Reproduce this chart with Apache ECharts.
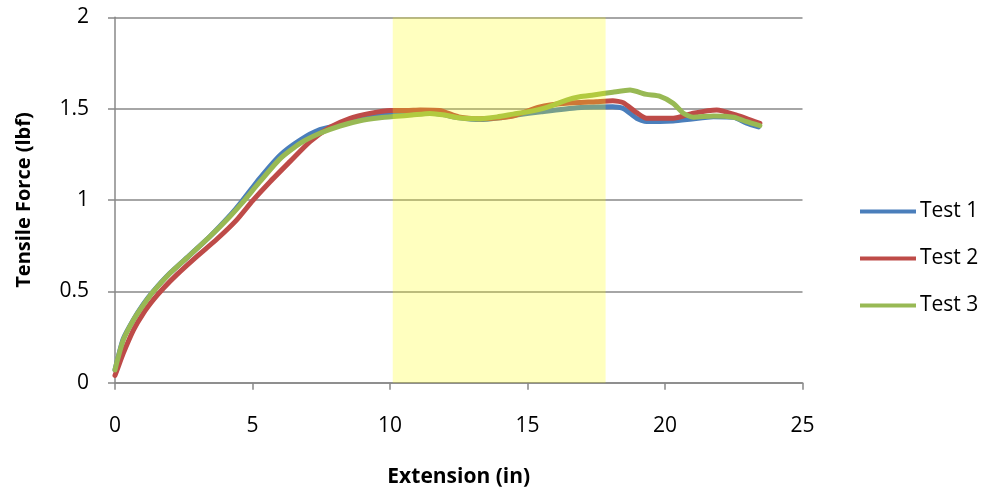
<!DOCTYPE html>
<html>
<head>
<meta charset="utf-8">
<script src="https://cdn.jsdelivr.net/npm/echarts@6/dist/echarts.min.js"></script>
<style>
html,body{margin:0;padding:0;background:#fff;}
#chart{width:985px;height:497px;}
</style>
</head>
<body>
<div id="chart"></div>
<script>
// ---- data ----
var seriesNames = ['Test 1', 'Test 2', 'Test 3'];
var xTicks = [0, 5, 10, 15, 20, 25];
var yTicks = [0, 0.5, 1, 1.5, 2];
var bandX = [10.1, 17.84];

var test1X = [0, 0.3, 0.67, 1.03, 1.39, 2.0, 2.73, 3.45, 4.18, 4.6, 5.27, 6.0, 6.73, 7.45, 8.18, 8.91, 9.64, 10.3, 11.0, 11.8, 12.5, 13.27, 14.0, 14.6, 15.5, 16.8, 18.1, 18.5, 18.97, 19.33, 20.3, 20.9, 21.76, 22.5, 22.97, 23.4];
var test1Y = [0.07, 0.24, 0.345, 0.43, 0.50, 0.60, 0.70, 0.80, 0.915, 0.99, 1.12, 1.245, 1.328, 1.385, 1.41, 1.44, 1.465, 1.474, 1.48, 1.47, 1.45, 1.44, 1.45, 1.465, 1.483, 1.505, 1.511, 1.50, 1.447, 1.429, 1.433, 1.442, 1.456, 1.453, 1.42, 1.40];

var test2X = [0, 0.1, 0.3, 0.67, 1.03, 1.39, 1.76, 2.24, 2.97, 3.7, 4.42, 5.0, 5.64, 6.36, 7.09, 7.82, 8.55, 9.27, 10.0, 10.6, 11.1, 11.8, 12.5, 13.27, 14.0, 14.5, 15.45, 16.4, 17.5, 18.1, 18.48, 18.97, 19.33, 20.3, 21.03, 21.88, 22.6, 23.45];
var test2Y = [0.04, 0.08, 0.161, 0.288, 0.38, 0.453, 0.517, 0.59, 0.69, 0.785, 0.89, 0.995, 1.10, 1.21, 1.32, 1.398, 1.447, 1.474, 1.49, 1.49, 1.493, 1.49, 1.455, 1.445, 1.45, 1.46, 1.51, 1.529, 1.538, 1.543, 1.533, 1.478, 1.447, 1.447, 1.475, 1.493, 1.465, 1.42];

var test3X = [0, 0.1, 0.3, 0.67, 1.03, 1.39, 2.0, 2.73, 3.45, 4.18, 4.6, 5.27, 6.0, 6.73, 7.45, 8.18, 8.91, 9.64, 10.24, 10.8, 11.45, 12.0, 12.5, 13.27, 13.9, 14.48, 15.1, 15.7, 16.42, 16.9, 17.4, 18.1, 18.73, 19.33, 19.8, 20.3, 20.67, 21.03, 21.76, 22.5, 22.97, 23.45];
var test3Y = [0.07, 0.13, 0.234, 0.343, 0.425, 0.498, 0.599, 0.699, 0.80, 0.91, 0.98, 1.10, 1.225, 1.31, 1.365, 1.405, 1.434, 1.45, 1.458, 1.465, 1.474, 1.465, 1.45, 1.445, 1.455, 1.47, 1.485, 1.507, 1.547, 1.565, 1.575, 1.59, 1.602, 1.578, 1.568, 1.529, 1.475, 1.453, 1.46, 1.453, 1.429, 1.407];

var colors = ['#4A7EBB', '#BE4B48', '#98B954'];

function pairs(xs, ys) {
  var out = [];
  for (var i = 0; i < xs.length; i++) out.push([xs[i], ys[i]]);
  return out;
}
var allData = [pairs(test1X, test1Y), pairs(test2X, test2Y), pairs(test3X, test3Y)];

var FONT = 'Open Sans';
var chart = echarts.init(document.getElementById('chart'), null, {renderer: 'canvas'});

var series = seriesNames.map(function (n, i) {
  return {
    name: n,
    type: 'line',
    data: allData[i],
    symbol: 'none',
    smooth: 0.2,
    z: 2 + i,
    lineStyle: {color: colors[i], width: 5, cap: 'round', join: 'round'},
    itemStyle: {color: colors[i]}
  };
});
// translucent highlight band drawn on top of the lines (as in the reference)
series.push({
  name: 'band',
  type: 'custom',
  silent: true,
  z: 20,
  data: [[bandX[0], bandX[1], yTicks[yTicks.length - 1], yTicks[0]]],
  encode: {x: [0, 1], y: [2, 3]},
  renderItem: function (params, api) {
    var p0 = api.coord([api.value(0), api.value(2)]);
    var p1 = api.coord([api.value(1), api.value(3)]);
    return {
      type: 'rect',
      shape: {x: p0[0], y: p0[1], width: p1[0] - p0[0], height: p1[1] - p0[1]},
      style: {fill: 'rgba(255,255,0,0.25)'}
    };
  }
});

chart.setOption({
  animation: false,
  backgroundColor: '#fff',
  grid: {left: 115, right: 182.5, top: 17.3, bottom: 114.3, containLabel: false},
  legend: {
    data: seriesNames,
    orient: 'vertical',
    left: 855,
    top: 196,
    itemWidth: 56,
    itemHeight: 22,
    itemGap: 26,
    icon: 'path://M0,0 L56,0 L56,4 L0,4 Z',
    textStyle: {fontFamily: FONT, fontSize: 21, color: '#000', padding: [0, 0, 0, -1]}
  },
  xAxis: {
    type: 'value',
    min: xTicks[0],
    max: xTicks[xTicks.length - 1],
    interval: 5,
    name: 'Extension (in)',
    nameLocation: 'middle',
    nameGap: 84,
    nameTextStyle: {fontFamily: FONT, fontSize: 21, fontWeight: 'bold', color: '#000'},
    axisLine: {show: true, lineStyle: {color: '#888', width: 1.5}},
    axisTick: {show: true, inside: false, length: 7, lineStyle: {color: '#888', width: 1.5}},
    axisLabel: {fontFamily: FONT, fontSize: 21, color: '#000', margin: 33},
    splitLine: {show: false}
  },
  yAxis: {
    type: 'value',
    min: yTicks[0],
    max: yTicks[yTicks.length - 1],
    interval: 0.5,
    name: 'Tensile Force (lbf)',
    nameLocation: 'middle',
    nameGap: 81,
    nameRotate: 90,
    nameTextStyle: {fontFamily: FONT, fontSize: 20, fontWeight: 'bold', color: '#000'},
    axisLine: {show: true, lineStyle: {color: '#888', width: 1.5}},
    axisTick: {show: true, inside: false, length: 7, lineStyle: {color: '#888', width: 1.5}},
    axisLabel: {fontFamily: FONT, fontSize: 21, color: '#000', margin: 26},
    splitLine: {show: true, lineStyle: {color: '#888', width: 1.5}}
  },
  series: series
});
</script>
</body>
</html>
